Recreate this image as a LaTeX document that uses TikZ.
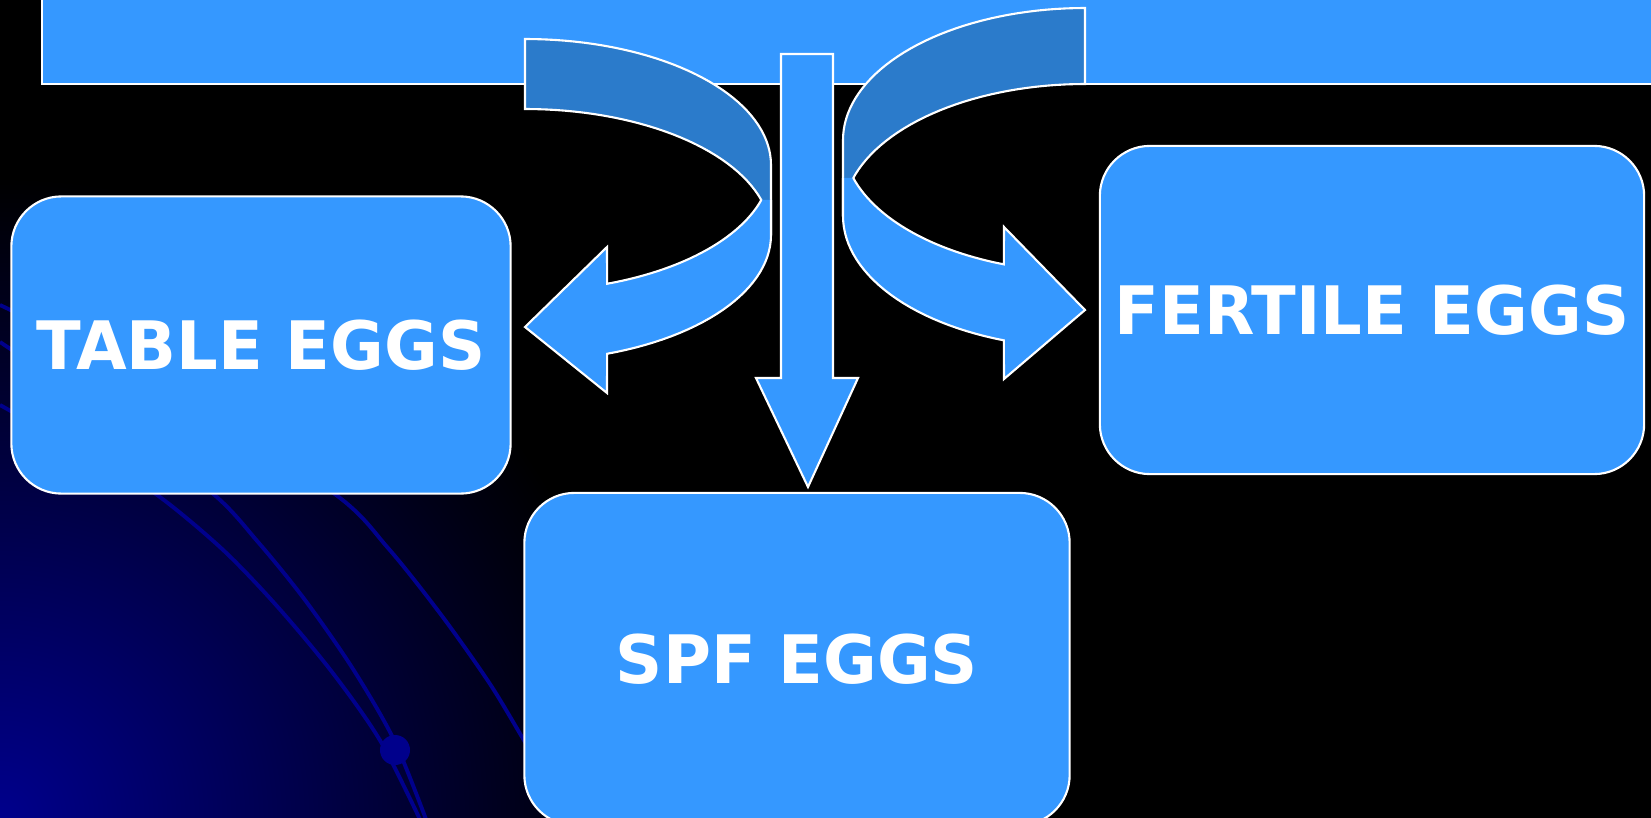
\documentclass[tikz,border=0pt]{standalone}
\usepackage{fontspec}
\usetikzlibrary{positioning}
\newfontfamily\eggfont[FakeStretch=0.98]{DejaVu Sans}
\definecolor{boxblue}{HTML}{3598FF}
\definecolor{bandblue}{HTML}{2B7BCB}
\definecolor{linenavy}{HTML}{00008C}

\begin{document}
\begin{tikzpicture}[x=0.01cm, y=-0.01cm,
  eggbox/.style={draw=white, line width=0.6pt, fill=boxblue, rounded corners=0.5cm,
    inner sep=0pt, text=white, font=\eggfont\bfseries\fontsize{19}{22}\selectfont},
  blockarrow/.style={draw=white, line width=0.6pt, fill=boxblue},
  backband/.style={draw=white, line width=0.6pt, fill=bandblue},
  bgline/.style={linenavy, line width=1.1pt}]
\useasboundingbox (0,0) rectangle (1651,818);
% slide background
\fill[black] (0,0) rectangle (1651,818);
\begin{scope}
  \clip (0,0) rectangle (1651,818);
  \shade[inner color=linenavy, outer color=black] (0,818) circle (6.4cm);
  % swooping lines
  \draw[bgline] plot[smooth] coordinates {(0,405) (80,450) (153,492) (221,548) (276,605) (332,672) (381,742) (425,830)};
  \draw[bgline] plot[smooth] coordinates {(0,342) (100,410) (211,492) (258,542) (305,600) (353,669) (395,742) (430,830)};
  \draw[bgline] plot[smooth] coordinates {(0,305) (160,385) (332,492) (388,548) (442,616) (490,684) (525,742) (560,800)};
  \fill[linenavy] (395,750) circle (0.15cm);
\end{scope}
% title bar
\draw[blockarrow] (42,-10) rectangle (1670,84);
% left curved arrow: back band, then front with head
\draw[backband] plot[domain=-90:0, samples=40] ({525+246*cos(\x)}, {165+126*sin(\x)})
  -- plot[domain=0:-90, samples=40] ({525+246*cos(\x)}, {235+126*sin(\x)}) -- cycle;
\draw[blockarrow] plot[domain=16.1:70.5, samples=30] ({525+246*cos(\x)}, {165+126*sin(\x)})
  -- (607,247) -- (525,327) -- (607,393)
  -- plot[domain=70.5:0, samples=30] ({525+246*cos(\x)}, {235+126*sin(\x)}) -- (771,200);
% right curved arrow
\draw[backband] plot[domain=-90:0, samples=40] ({1085-242*cos(\x)}, {140+132*sin(\x)})
  -- plot[domain=0:-90, samples=40] ({1085-242*cos(\x)}, {216+132*sin(\x)}) -- cycle;
\draw[blockarrow] plot[domain=16.7:70.4, samples=30] ({1085-242*cos(\x)}, {140+132*sin(\x)})
  -- (1004,227) -- (1085,310) -- (1004,379)
  -- plot[domain=70.4:0, samples=30] ({1085-242*cos(\x)}, {216+132*sin(\x)}) -- (843,178);
% straight arrow down
\draw[blockarrow] (781,54) -- (833,54) -- (833,378) -- (858,378) -- (808,487)
  -- (756,378) -- (781,378) -- cycle;
% the three kinds of eggs
\node[eggbox, minimum width=4.99cm, minimum height=2.97cm] (table) at (261,345) {TABLE EGGS};
\node[eggbox, minimum width=5.44cm, minimum height=3.28cm] (fertile) at (1372,310) {FERTILE EGGS};
\node[eggbox, minimum width=5.45cm, minimum height=3.32cm] (spf) at (797,659) {SPF EGGS};
\end{tikzpicture}
\end{document}
